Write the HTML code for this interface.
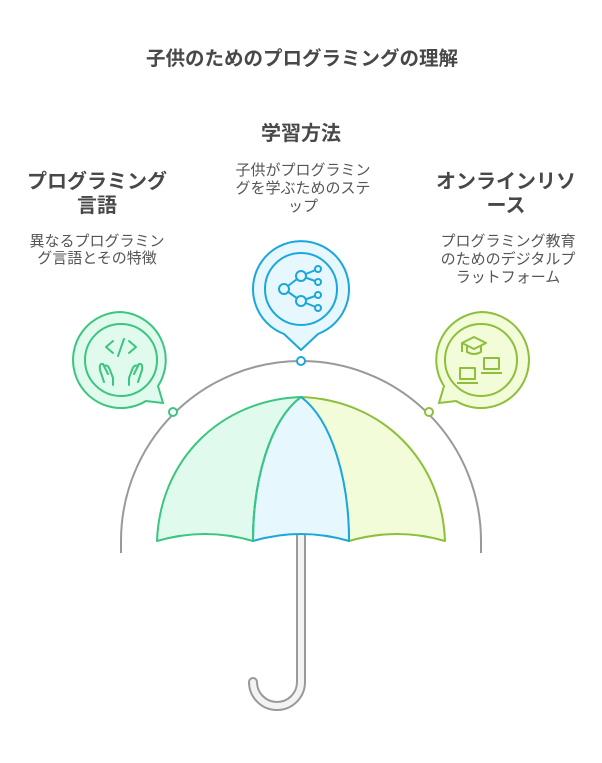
<!DOCTYPE html>
<html><head><meta charset="utf-8"><style>
body{margin:0;background:#fff;}
svg text{font-family:"Liberation Sans","Noto Sans CJK JP",sans-serif;fill:#484848;}
.t{font-weight:bold;font-size:20px;}
.d{font-size:15px;fill:#555;}
</style></head><body>
<svg width="602" height="758" viewBox="0 0 602 758" xmlns="http://www.w3.org/2000/svg">
<text x="302" y="65" text-anchor="middle" style="font-weight:bold;font-size:19.5px">子供のためのプログラミングの理解</text>
<text class="t" x="301" y="140" text-anchor="middle">学習方法</text>
<text class="d" x="303" y="175" text-anchor="middle">子供がプログラミン</text>
<text class="d" x="303" y="193" text-anchor="middle">グを学ぶためのステ</text>
<text class="d" x="303" y="211" text-anchor="middle">ップ</text>
<text class="t" x="97" y="188" text-anchor="middle">プログラミング</text>
<text class="t" x="97" y="212" text-anchor="middle">言語</text>
<text class="d" x="97" y="246" text-anchor="middle">異なるプログラミン</text>
<text class="d" x="97" y="263" text-anchor="middle">グ言語とその特徴</text>
<text class="t" x="506" y="188" text-anchor="middle">オンラインリソ</text>
<text class="t" x="506" y="212" text-anchor="middle">ース</text>
<text class="d" x="508" y="246" text-anchor="middle">プログラミング教育</text>
<text class="d" x="508" y="264" text-anchor="middle">のためのデジタルプ</text>
<text class="d" x="508" y="282" text-anchor="middle">ラットフォーム</text>

<path d="M121 553 L121 541 A180 180 0 0 1 481 541 L481 553" fill="none" stroke="#999" stroke-width="2"/>

<path d="M301 536 L301 682 A24 24 0 0 1 253 682" fill="none" stroke="#999" stroke-width="10" stroke-linecap="round"/>
<path d="M301 536 L301 682 A24 24 0 0 1 253 682" fill="none" stroke="#f3f3f3" stroke-width="6" stroke-linecap="round"/>

<path d="M301 397 C220 400 160 460 157 541 Q205 527 253 541 C253 480 270 420 301 397Z" fill="#e0fbee" stroke="#3cc57f" stroke-width="2" stroke-linejoin="round"/>
<path d="M301 397 C382 400 442 460 445 541 Q397 527 349 541 C349 480 332 420 301 397Z" fill="#f2fcd9" stroke="#8dbf3a" stroke-width="2" stroke-linejoin="round"/>
<path d="M301 397 C270 420 253 480 253 541 Q301 527 349 541 C349 480 332 420 301 397Z" fill="#e6f7fd" stroke="#1aa7dc" stroke-width="2" stroke-linejoin="round"/>
<path d="M301 397 C270 420 253 480 253 541" fill="none" stroke="#3cc57f" stroke-width="2"/>

<circle cx="173" cy="412" r="4" fill="#fff" stroke="#3cc57f" stroke-width="2"/>
<circle cx="301" cy="361" r="4" fill="#fff" stroke="#1aa7dc" stroke-width="2"/>
<circle cx="429" cy="412" r="4" fill="#fff" stroke="#8dbf3a" stroke-width="2"/>

<path d="M121 312 A48 48 0 1 0 146 401 L163 403 L158 386 A48 48 0 0 0 121 312Z" fill="#e0fbee" stroke="#3cc57f" stroke-width="2"/>
<circle cx="121" cy="360" r="36" fill="#e0fbee" stroke="#3cc57f" stroke-width="2"/>
<g stroke="#3cc57f" stroke-width="2" fill="none" stroke-linecap="round" stroke-linejoin="round">
<path d="M113 341 L106 347 L113 353"/><path d="M129 341 L136 347 L129 353"/><path d="M124 339 L118 356"/>
<path d="M104 382 L100 370 Q99 363 103 364 L108 374 M104 366 Q108 364 110 370 L113 378 L113 385"/>
<path d="M138 382 L142 370 Q143 363 139 364 L134 374 M138 366 Q134 364 132 370 L129 378 L129 385"/>
</g>

<path d="M284 334 A48 48 0 1 1 318 334 L301 350Z" fill="#e6f7fd" stroke="#1aa7dc" stroke-width="2" stroke-linejoin="round"/>
<circle cx="301" cy="289" r="36" fill="#e6f7fd" stroke="#1aa7dc" stroke-width="2"/>
<g stroke="#1aa7dc" stroke-width="2" fill="#e6f7fd">
<path d="M284 289 L301 276 M284 289 L301 301 M301 276 L318 269 M301 276 L318 282 M301 301 L318 295 M301 301 L318 308" fill="none"/>
<circle cx="284" cy="289" r="5"/><circle cx="301" cy="276" r="5"/><circle cx="301" cy="301" r="5"/>
<circle cx="318" cy="269" r="3"/><circle cx="318" cy="282" r="3"/><circle cx="318" cy="295" r="3"/><circle cx="318" cy="308" r="3"/>
</g>

<path d="M481 312 A48 48 0 1 1 456 401 L439 403 L444 386 A48 48 0 0 1 481 312Z" fill="#f2fcd9" stroke="#8dbf3a" stroke-width="2"/>
<circle cx="481" cy="360" r="36" fill="#f2fcd9" stroke="#8dbf3a" stroke-width="2"/>
<g stroke="#8dbf3a" stroke-width="2" fill="none" stroke-linejoin="round">
<path d="M462 343 L474 337 L486 343 L474 349Z"/><path d="M467 346 L467 352 Q474 356 481 352 L481 346"/><path d="M462 343 L462 352"/>
<rect x="484" y="358" width="15" height="11"/><path d="M481 373 L502 373"/>
<rect x="460" y="368" width="15" height="11"/><path d="M457 383 L478 383"/>
</g>
</svg>
</body></html>
